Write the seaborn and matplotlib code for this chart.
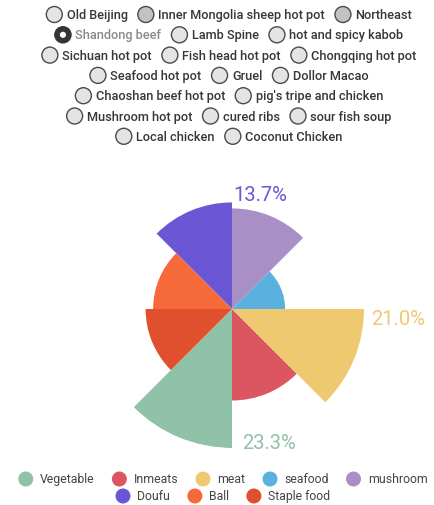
import numpy as np
import matplotlib
matplotlib.use('Agg')
import matplotlib.pyplot as plt
from matplotlib.patches import Circle
import seaborn as sns

# ---------------- data ----------------
categories = ['Vegetable', 'Inmeats', 'meat', 'seafood', 'mushroom', 'Doufu', 'Ball', 'Staple food']
values = [23.3, 10.1, 21.0, 3.4, 12.2, 13.7, 7.5, 9.0]
colors = ['#8fc2a8', '#dc5662', '#efc96f', '#5ab1e0', '#a88fc5', '#6b56d6', '#f5693b', '#e04f2e']
labeled = ['Vegetable', 'meat', 'Doufu']

radio_rows = [
    ['Old Beijing', 'Inner Mongolia sheep hot pot', 'Northeast'],
    ['Shandong beef', 'Lamb Spine', 'hot and spicy kabob'],
    ['Sichuan hot pot', 'Fish head hot pot', 'Chongqing hot pot'],
    ['Seafood hot pot', 'Gruel', 'Dollor Macao'],
    ['Chaoshan beef hot pot', "pig's tripe and chicken"],
    ['Mushroom hot pot', 'cured ribs', 'sour fish soup'],
    ['Local chicken', 'Coconut Chicken'],
]
selected = 'Shandong beef'
shaded = ['Inner Mongolia sheep hot pot', 'Northeast']

legend_rows = [categories[:5], categories[5:]]

# ---------------- figure ----------------
sns.set_theme(style='white')
plt.rcParams['font.family'] = ['Roboto', 'DejaVu Sans']

W, H = 434, 506
fig = plt.figure(figsize=(W / 100, H / 100), dpi=100)
fig.patch.set_facecolor('white')

# rose chart (polar bars, radius ~ sqrt(value))
cx, cy, R = 232, 310, 139
ax = fig.add_axes([(cx - R) / W, (H - cy - R) / H, 2 * R / W, 2 * R / H], projection='polar')
ax.set_theta_zero_location('N')
ax.set_theta_direction(-1)
n = len(categories)
step = 2 * np.pi / n
theta_start = np.deg2rad(180) - step * np.arange(n)
radii = np.sqrt(values)
ax.bar(theta_start, radii, width=step, align='edge', color=colors, linewidth=0)
ax.set_ylim(0, max(radii))
ax.grid(False)
ax.set_xticks([])
ax.set_yticks([])
ax.spines['polar'].set_visible(False)
ax.patch.set_alpha(0)

label_cfg = {  # anchor edge (0 = start, 1 = end) and pixel offset
    'Doufu': (1, (1, 8)),
    'meat': (0, (7, -10)),
    'Vegetable': (0, (10, 5)),
}
for name in labeled:
    i = categories.index(name)
    edge, off = label_cfg[name]
    th = theta_start[i] + edge * step
    ax.annotate(f'{values[i]:.1f}%', xy=(th, radii[i]), xytext=off,
                textcoords='offset pixels', ha='left', va='center',
                color=colors[i], fontsize=14.5, annotation_clip=False)

# overlay axes in pixel units for radio buttons and legend
ov = fig.add_axes([0, 0, 1, 1])
ov.set_xlim(0, W)
ov.set_ylim(H, 0)
ov.axis('off')
renderer = fig.canvas.get_renderer()


def layout_row(items, y, xc, fs, d, g1, g2, weight='normal', draw_marker=None, text_color=None):
    texts = []
    widths = []
    for it in items:
        t = ov.text(0, y, it, fontsize=fs, va='center', ha='left', weight=weight,
                    color=text_color(it) if text_color else '#333333')
        widths.append(t.get_window_extent(renderer).width)
        texts.append(t)
    total = sum(d + g1 + w for w in widths) + g2 * (len(items) - 1)
    x = xc - total / 2
    for it, t, w in zip(items, texts, widths):
        draw_marker(it, x + d / 2, y, d)
        t.set_x(x + d + g1)
        x += d + g1 + w + g2


def radio_marker(it, x, y, d):
    if it == selected:
        ov.add_patch(Circle((x, y), d / 2 - 0.3, facecolor='#353535', edgecolor='#353535', lw=0.8))
        ov.add_patch(Circle((x, y), d / 5.5, facecolor='white', edgecolor='none'))
    else:
        fc = '#c2c2c2' if it in shaded else '#e4e4e4'
        ov.add_patch(Circle((x, y), d / 2 - 0.5, facecolor=fc, edgecolor='#4a4a4a', lw=1.0))


def radio_color(it):
    return '#8a8a8a' if it == selected else '#363636'


row_y0, row_dy = 15.5, 20.3
for r, items in enumerate(radio_rows):
    layout_row(items, row_y0 + r * row_dy, 229, 9.2, 17, 4, 9.5, weight='medium',
               draw_marker=radio_marker, text_color=radio_color)

color_of = dict(zip(categories, colors))


def legend_marker(it, x, y, d):
    ov.add_patch(Circle((x, y), d / 2, facecolor=color_of[it], edgecolor='none'))


for r, items in enumerate(legend_rows):
    layout_row(items, 480 + r * 17, 223, 8.8, 15, 7, 17,
               draw_marker=legend_marker, text_color=lambda it: '#444444')

fig.savefig('out.png', dpi=100, facecolor='white')
